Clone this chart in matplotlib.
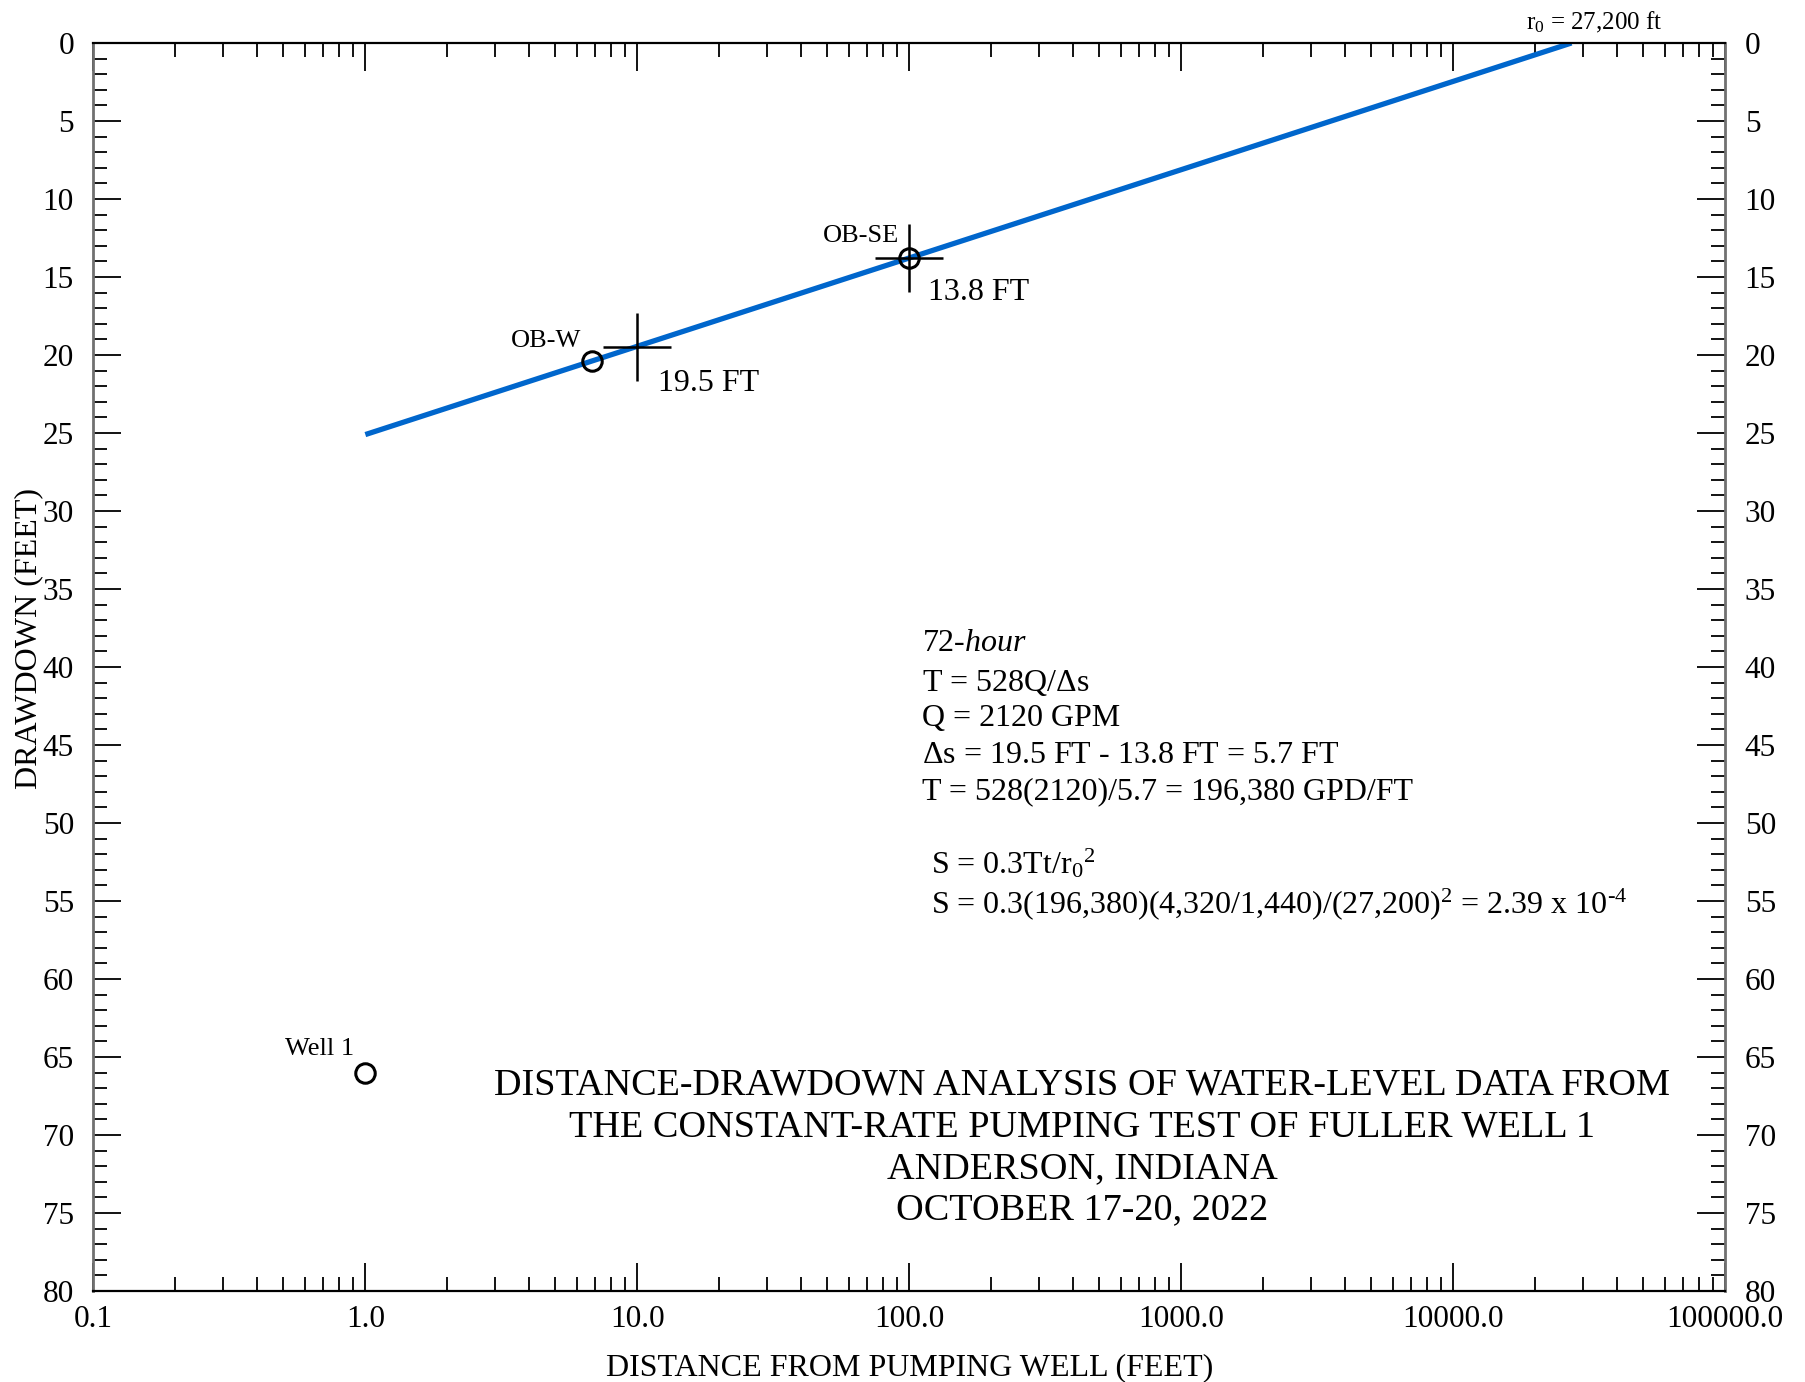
import numpy as np
import matplotlib
matplotlib.use("Agg")
import matplotlib.pyplot as plt
from matplotlib.ticker import LogLocator, FixedLocator, MultipleLocator, NullFormatter

plt.rcParams['font.family'] = ['Liberation Serif', 'DejaVu Serif']
plt.rcParams['mathtext.fontset'] = 'custom'
plt.rcParams['mathtext.rm'] = 'Liberation Serif'
plt.rcParams['mathtext.it'] = 'Liberation Serif:italic'

# observation wells: distance (ft) and drawdown (ft)
well_names = ["Well 1", "OB-W", "OB-SE"]
well_dist = [1.0, 6.8, 100.0]
well_drawdown = [66.0, 20.4, 13.8]

# straight-line fit through the observation wells
fit_dist = [1.0, 27200.0]
fit_drawdown = [25.1, 0.0]

# drawdown at one log cycle apart
pick_dist = [10.0, 100.0]
pick_drawdown = [19.5, 13.8]

x_ticks = [0.1, 1.0, 10.0, 100.0, 1000.0, 10000.0, 100000.0]
x_tick_labels = ["0.1", "1.0", "10.0", "100.0", "1000.0", "10000.0", "100000.0"]

fig = plt.figure(figsize=(18.06, 13.82), dpi=100)
ax = fig.add_axes([0.0517, 0.0658, 0.9036, 0.9031])

ax.plot(fit_dist, fit_drawdown, color="#0066cc", lw=3.8, solid_capstyle="butt", zorder=2)
ax.plot(pick_dist, pick_drawdown, linestyle="none", marker="+", ms=49, mew=1.8,
        color="black", zorder=3)
ax.plot(well_dist, well_drawdown, linestyle="none", marker="o", ms=14, mew=2.2,
        mfc="none", mec="black", zorder=4)

ax.set_xscale("log")
ax.set_xlim(0.1, 100000.0)
ax.set_ylim(80, 0)

ax.xaxis.set_major_locator(FixedLocator(x_ticks))
ax.set_xticklabels(x_tick_labels)
ax.xaxis.set_minor_locator(LogLocator(base=10, subs=np.arange(2, 10)))
ax.xaxis.set_minor_formatter(NullFormatter())
ax.yaxis.set_major_locator(MultipleLocator(5))
ax.yaxis.set_minor_locator(MultipleLocator(1))

ax.tick_params(which="both", direction="in", top=True, right=True,
               labelright=True, labelsize=22.5, width=1.3, color="black")
ax.tick_params(which="major", length=20)
ax.tick_params(which="minor", length=10)
ax.tick_params(axis="y", which="major", pad=14)
ax.tick_params(axis="x", which="major", pad=10)

for side in ["top", "bottom"]:
    ax.spines[side].set_linewidth(1.6)
for side in ["left", "right"]:
    ax.spines[side].set_linewidth(2.0)
    ax.spines[side].set_color("#707070")

ax.set_xlabel("DISTANCE FROM PUMPING WELL (FEET)", fontsize=23, labelpad=14)
ax.set_ylabel("DRAWDOWN (FEET)", fontsize=23)
ax.yaxis.set_label_coords(-0.031, 0.523)

# well labels and picked drawdowns
ax.text(4.6, 19.1, well_names[1], fontsize=19, ha="center", va="center")
ax.text(66.7, 12.4, well_names[2], fontsize=19, ha="center", va="center")
ax.text(0.676, 64.5, well_names[0], fontsize=19, ha="center", va="center")
ax.text(11.9, 21.8, f"{pick_drawdown[0]} FT", fontsize=23, ha="left", va="center")
ax.text(117, 16.0, f"{pick_drawdown[1]} FT", fontsize=23, ha="left", va="center")
ax.text(33000, -1.3, r"r$_0$ = 27,200 ft", fontsize=18, ha="center", va="center")

# analysis text
calc_lines = [
    (r"$\it{72\text{-}hour}$", 38.5),
    (r"T = 528Q/$\Delta$s", 41.0),
    ("Q = 2120 GPM", 43.3),
    (r"$\Delta$s = 19.5 FT - 13.8 FT = 5.7 FT", 45.7),
    ("T = 528(2120)/5.7 = 196,380 GPD/FT", 48.0),
]
for txt, yv in calc_lines:
    ax.text(111, yv, txt, fontsize=23, ha="left", va="center")
ax.text(120, 52.6, r"S = 0.3Tt/r$_0{}^2$", fontsize=23, ha="left", va="center")
ax.text(120, 55.2,
        r"S = 0.3(196,380)(4,320/1,440)/(27,200)$^2$ = 2.39 x 10$^{\text{-}4}$",
        fontsize=23, ha="left", va="center")

title_lines = ["DISTANCE-DRAWDOWN ANALYSIS OF WATER-LEVEL DATA FROM",
               "THE CONSTANT-RATE PUMPING TEST OF FULLER WELL 1",
               "ANDERSON, INDIANA",
               "OCTOBER 17-20, 2022"]
for i, line in enumerate(title_lines):
    ax.text(0.606, 0.1647 - i * 0.0333, line, transform=ax.transAxes,
            fontsize=27.5, ha="center", va="center")

fig.savefig("out.png", dpi=100)
